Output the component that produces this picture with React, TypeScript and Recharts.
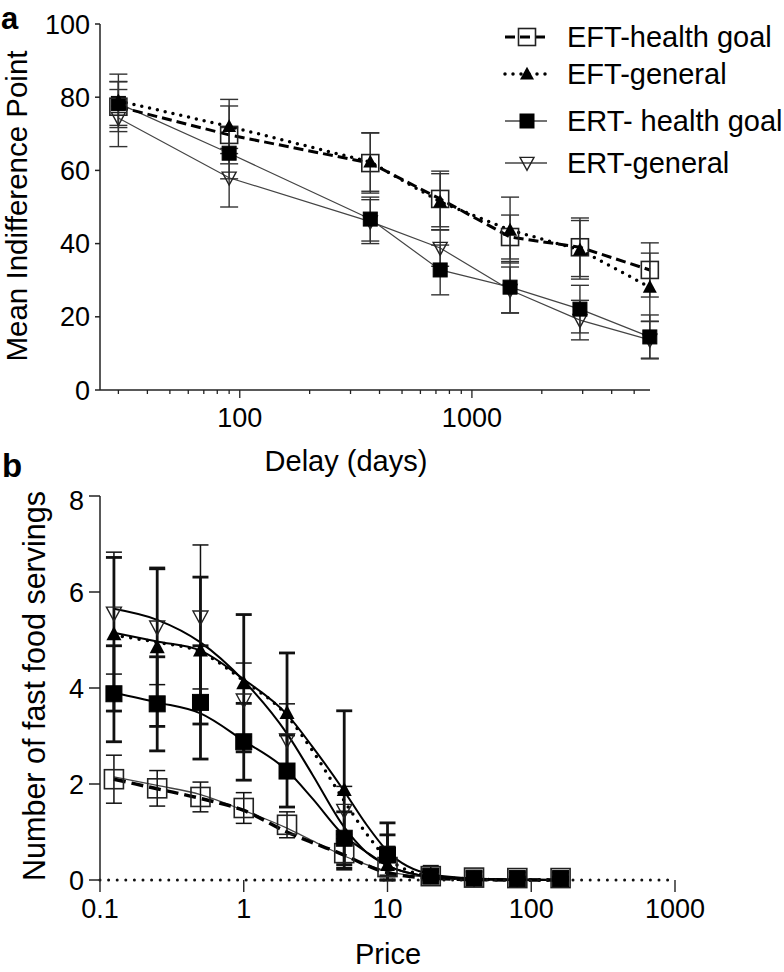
import { ComposedChart, Line, XAxis, YAxis, ErrorBar, Legend, Label } from "recharts";

const FONT = '"Liberation Sans", Arial, Helvetica, sans-serif';

// panel a: indifference points by delay
const delayDays = [30, 90, 365, 730, 1460, 2920, 5840];
const eftHealthMean = [77.4, 69.7, 62.0, 52.2, 41.8, 39.0, 32.8];
const eftHealthErr = [6.8, 7.9, 8.2, 7.6, 6.0, 8.0, 7.4];
const eftGeneralMean = [79.0, 72.0, 62.3, 51.4, 43.7, 38.3, 28.1];
const eftGeneralErr = [7.3, 7.4, 8.0, 7.7, 9.0, 8.0, 9.3];
const ertHealthMean = [78.3, 64.7, 46.7, 32.8, 28.1, 22.1, 14.5];
const ertHealthErr = [6.0, 7.0, 6.0, 6.8, 7.0, 6.5, 6.0];
const ertGeneralMean = [74.3, 58.0, 46.0, 38.8, 27.3, 19.1, 13.7];
const ertGeneralErr = [7.8, 8.0, 6.0, 5.0, 6.3, 5.4, 5.0];

const delayTicks = [30, 40, 50, 60, 70, 80, 90, 100, 200, 300, 400, 500, 600, 700, 800, 900, 1000, 2000, 3000, 4000, 5000];
const delayLabels = [100, 1000];
const indifferenceTicks = [0, 20, 40, 60, 80, 100];

// panel b: purchase task
const prices = [0.125, 0.25, 0.5, 1, 2, 5, 10, 20, 40, 80, 160];
const eftHealthServ = [2.1, 1.91, 1.73, 1.5, 1.15, 0.56, 0.27, 0.08, 0.05, 0.04, 0.04];
const eftHealthServErr = [0.5, 0.37, 0.31, 0.32, 0.27, 0.3, 0.2, 0.12, 0.04, 0.03, 0.03];
const eftGeneralServ = [5.12, 4.85, 4.78, 4.1, 3.48, 1.875, 0.31, 0.08, 0.04, 0.03, 0.03];
const eftGeneralServErr = [1.6, 1.65, 1.53, 1.43, 1.25, 1.65, 0.63, 0.1, 0.04, 0.03, 0.03];
const ertHealthServ = [3.88, 3.67, 3.7, 2.88, 2.27, 0.87, 0.52, 0.08, 0.04, 0.03, 0.03];
const ertHealthServErr = [1.0, 0.98, 1.18, 0.8, 0.75, 0.55, 0.67, 0.1, 0.04, 0.03, 0.03];
const ertGeneralServ = [5.56, 5.27, 5.48, 3.75, 2.92, 1.45, 0.4, 0.1, 0.04, 0.03, 0.03];
const ertGeneralServErr = [1.27, 1.2, 1.5, 0.77, 0.75, 0.5, 0.3, 0.2, 0.04, 0.03, 0.03];

const fitPrices = [0.125, 0.25, 0.5, 1, 2, 3, 5, 7, 10, 20, 40, 80, 160];
const ertGeneralFit = [5.65, 5.42, 4.95, 4.15, 3.05, 2.2, 1.1, 0.6, 0.3, 0.07, 0.02, 0.01, 0];
const eftGeneralFit = [5.15, 4.97, 4.78, 4.18, 3.45, 2.78, 1.85, 1.19, 0.6, 0.12, 0.03, 0.01, 0];
const eftGeneralFitDotted = [5.1, 4.95, 4.75, 4.15, 3.42, 2.7, 1.65, 1.0, 0.45, 0.08, 0.02, 0, 0];
const ertHealthFit = [3.9, 3.7, 3.47, 2.9, 2.28, 1.7, 0.92, 0.6, 0.3, 0.07, 0.02, 0, 0];
const eftHealthFit = [2.15, 1.97, 1.78, 1.45, 1.08, 0.82, 0.5, 0.33, 0.18, 0.05, 0.01, 0, 0];
const eftHealthFitDashed = [2.1, 1.9, 1.7, 1.45, 1.0, 0.78, 0.52, 0.32, 0.15, 0.04, 0.01, 0, 0];

const priceTicks = [0.1, 1, 10, 100, 1000];
const servingTicks = [0, 2, 4, 6, 8];

const legendNames = ["EFT-health goal", "EFT-general", "ERT- health goal", "ERT-general"];

type Kind = "openSquare" | "filledSquare" | "triangle" | "invTriangle";

// error bars stop at the zero line, like the original plot
function rows(xs: number[], ys: number[], errs?: number[]) {
  return xs.map((x, i) => {
    const e = errs ? errs[i] : 0;
    return { x, y: ys[i], err: [Math.min(e, ys[i]), e] };
  });
}

function MarkShape({ cx, cy, kind, size }: { cx: number; cy: number; kind: Kind; size: number }) {
  if (cx == null || cy == null) return null;
  const h = size / 2;
  if (kind === "openSquare")
    return <rect x={cx - h} y={cy - h} width={size} height={size} fill="none" stroke="#222" strokeWidth={1.6} />;
  if (kind === "filledSquare")
    return <rect x={cx - h} y={cy - h} width={size} height={size} fill="#000" stroke="#000" strokeWidth={1} />;
  if (kind === "triangle")
    return (
      <polygon
        points={`${cx},${cy - h * 1.05} ${cx - h},${cy + h * 0.8} ${cx + h},${cy + h * 0.8}`}
        fill="#000"
      />
    );
  return (
    <polygon
      points={`${cx - h},${cy - h * 0.8} ${cx + h},${cy - h * 0.8} ${cx},${cy + h * 1.05}`}
      fill="none"
      stroke="#222"
      strokeWidth={1.4}
    />
  );
}

const dotOf = (kind: Kind, size: number) => (p: any) =>
  <MarkShape key={`${kind}-${p.index}`} cx={p.cx} cy={p.cy} kind={kind} size={size} />;

function DelayTick(props: any) {
  const { x, y, payload } = props;
  const major = delayLabels.includes(payload.value);
  return (
    <g>
      <line x1={x} x2={x} y1={y} y2={y + (major ? 8 : 4)} stroke="#222" strokeWidth={1.3} />
      {major && (
        <text x={x} y={y + 37} textAnchor="middle" fontSize={27} fontFamily={FONT} fill="#000">
          {payload.value}
        </text>
      )}
    </g>
  );
}

function PriceTick(props: any) {
  const { x, y, payload } = props;
  return (
    <g>
      <line x1={x} x2={x} y1={y} y2={y + 12} stroke="#222" strokeWidth={1.4} />
      <text x={x} y={y + 38} textAnchor="middle" fontSize={27} fontFamily={FONT} fill="#000">
        {payload.value}
      </text>
    </g>
  );
}

function LegendBox() {
  const ys = [29, 66, 113, 155];
  const lineStyles = [
    { stroke: "#000", strokeWidth: 3, strokeDasharray: "10 5" },
    { stroke: "#000", strokeWidth: 3.5, strokeDasharray: "0 8", strokeLinecap: "round" as const },
    { stroke: "#444", strokeWidth: 1.3 },
    { stroke: "#444", strokeWidth: 1.3 },
  ];
  const kinds: Kind[] = ["openSquare", "triangle", "filledSquare", "invTriangle"];
  return (
    <svg width={284} height={180} style={{ overflow: "visible" }}>
      {legendNames.map((name, i) => (
        <g key={name}>
          <line x1={5} x2={47} y1={ys[i]} y2={ys[i]} {...lineStyles[i]} />
          <MarkShape cx={27} cy={ys[i]} kind={kinds[i]} size={kinds[i] === "openSquare" ? 17 : 14} />
          <text x={67} y={ys[i]} dy="0.36em" fontSize={29} fontFamily={FONT} fill="#000">
            {name}
          </text>
        </g>
      ))}
    </svg>
  );
}

const axisStroke = { stroke: "#222", strokeWidth: 1.5 };

function PanelA() {
  return (
    <ComposedChart width={784} height={485} margin={{ top: 24, right: 134, bottom: 0, left: 0 }}>
      <XAxis
        dataKey="x"
        type="number"
        scale="log"
        domain={[25, 5850]}
        ticks={delayTicks}
        interval={0}
        tickSize={0}
        tickMargin={0}
        tickLine={false}
        axisLine={axisStroke}
        tick={(p: any) => <DelayTick {...p} />}
        height={95}
      >
        <Label
          content={() => (
            <text x={346} y={471} textAnchor="middle" fontSize={29} fontFamily={FONT} fill="#000">
              Delay (days)
            </text>
          )}
        />
      </XAxis>
      <YAxis
        type="number"
        domain={[0, 100]}
        ticks={indifferenceTicks}
        width={100}
        tickSize={5}
        tickMargin={5}
        axisLine={axisStroke}
        tickLine={axisStroke}
        tick={{ fontSize: 27, fill: "#000", fontFamily: FONT }}
      >
        <Label
          content={() => (
            <text
              x={27}
              y={206}
              transform="rotate(-90 27 206)"
              textAnchor="middle"
              fontSize={29.5}
              fontFamily={FONT}
              fill="#000"
            >
              Mean Indifference Point
            </text>
          )}
        />
      </YAxis>
      <Legend
        layout="vertical"
        align="center"
        verticalAlign="middle"
        wrapperStyle={{ left: 500, top: 8, width: 284, height: 180 }}
        content={() => <LegendBox />}
      />
      <Line
        data={rows(delayDays, ertGeneralMean, ertGeneralErr)}
        dataKey="y"
        type="linear"
        stroke="#444"
        strokeWidth={1.2}
        dot={dotOf("invTriangle", 14)}
        activeDot={false}
        isAnimationActive={false}
      >
        <ErrorBar dataKey="err" direction="y" width={9} stroke="#333" strokeWidth={1.4} isAnimationActive={false} />
      </Line>
      <Line
        data={rows(delayDays, ertHealthMean, ertHealthErr)}
        dataKey="y"
        type="linear"
        stroke="#444"
        strokeWidth={1.2}
        dot={dotOf("filledSquare", 14)}
        activeDot={false}
        isAnimationActive={false}
      >
        <ErrorBar dataKey="err" direction="y" width={9} stroke="#333" strokeWidth={1.4} isAnimationActive={false} />
      </Line>
      <Line
        data={rows(delayDays, eftHealthMean, eftHealthErr)}
        dataKey="y"
        type="linear"
        stroke="#000"
        strokeWidth={3}
        strokeDasharray="10 5"
        dot={dotOf("openSquare", 17)}
        activeDot={false}
        isAnimationActive={false}
      >
        <ErrorBar dataKey="err" direction="y" width={9} stroke="#333" strokeWidth={1.4} isAnimationActive={false} />
      </Line>
      <Line
        data={rows(delayDays, eftGeneralMean, eftGeneralErr)}
        dataKey="y"
        type="linear"
        stroke="#000"
        strokeWidth={3.5}
        strokeDasharray="0 8"
        strokeLinecap="round"
        dot={dotOf("triangle", 14)}
        activeDot={false}
        isAnimationActive={false}
      >
        <ErrorBar dataKey="err" direction="y" width={9} stroke="#333" strokeWidth={1.4} isAnimationActive={false} />
      </Line>
    </ComposedChart>
  );
}

function fitLine(values: number[], stroke: string, width: number, dash?: string) {
  return (
    <Line
      data={rows(fitPrices, values)}
      dataKey="y"
      type="monotone"
      stroke={stroke}
      strokeWidth={width}
      strokeDasharray={dash}
      strokeLinecap={dash && dash.startsWith("0") ? "round" : "butt"}
      dot={false}
      activeDot={false}
      isAnimationActive={false}
    />
  );
}

function markerLine(values: number[], errs: number[], kind: Kind, size: number, barWidth: number) {
  return (
    <Line
      data={rows(prices, values, errs)}
      dataKey="y"
      stroke="none"
      strokeWidth={0}
      dot={dotOf(kind, size)}
      activeDot={false}
      isAnimationActive={false}
    >
      <ErrorBar dataKey="err" direction="y" width={8} stroke="#111" strokeWidth={barWidth} isAnimationActive={false} />
    </Line>
  );
}

function PanelB() {
  return (
    <ComposedChart width={784} height={487} margin={{ top: 11, right: 109, bottom: 0, left: 0 }}>
      <XAxis
        dataKey="x"
        type="number"
        scale="log"
        domain={[0.1, 1000]}
        ticks={priceTicks}
        interval={0}
        tickSize={0}
        tickMargin={0}
        tickLine={false}
        axisLine={{ stroke: "#111", strokeWidth: 3, strokeDasharray: "0 8.6", strokeLinecap: "round" }}
        tick={(p: any) => <PriceTick {...p} />}
        height={92}
      >
        <Label
          content={() => (
            <text x={388} y={479} textAnchor="middle" fontSize={29} fontFamily={FONT} fill="#000">
              Price
            </text>
          )}
        />
      </XAxis>
      <YAxis
        type="number"
        domain={[0, 8]}
        ticks={servingTicks}
        width={100}
        tickSize={11}
        tickMargin={5}
        axisLine={axisStroke}
        tickLine={axisStroke}
        tick={{ fontSize: 27, fill: "#000", fontFamily: FONT }}
      >
        <Label
          content={() => (
            <text
              x={45}
              y={201}
              transform="rotate(-90 45 201)"
              textAnchor="middle"
              fontSize={30.5}
              fontFamily={FONT}
              fill="#000"
            >
              Number of fast food servings
            </text>
          )}
        />
      </YAxis>
      {fitLine(eftHealthFit, "#444", 1.3)}
      {fitLine(eftHealthFitDashed, "#000", 3.5, "12 6")}
      {fitLine(ertHealthFit, "#000", 2)}
      {fitLine(ertGeneralFit, "#000", 2)}
      {fitLine(eftGeneralFit, "#000", 2)}
      {fitLine(eftGeneralFitDotted, "#000", 3.5, "0 8.5")}
      {markerLine(eftHealthServ, eftHealthServErr, "openSquare", 19, 1.5)}
      {markerLine(ertGeneralServ, ertGeneralServErr, "invTriangle", 15, 1.5)}
      {markerLine(eftGeneralServ, eftGeneralServErr, "triangle", 15, 2.8)}
      {markerLine(ertHealthServ, ertHealthServErr, "filledSquare", 16, 2.8)}
    </ComposedChart>
  );
}

export default function App() {
  return (
    <div style={{ position: "absolute", left: 0, top: 0, width: 784, height: 972, background: "#fff", fontFamily: FONT }}>
      <div style={{ position: "absolute", left: 0, top: 0 }}>
        <PanelA />
      </div>
      <div style={{ position: "absolute", left: 0, top: 485 }}>
        <PanelB />
      </div>
      <svg width={784} height={972} style={{ position: "absolute", left: 0, top: 0, pointerEvents: "none" }}>
        <text x={1} y={29} fontSize={31} fontWeight="bold" fontFamily={FONT} fill="#000">a</text>
        <text x={2} y={477} fontSize={33} fontWeight="bold" fontFamily={FONT} fill="#000">b</text>
      </svg>
    </div>
  );
}
